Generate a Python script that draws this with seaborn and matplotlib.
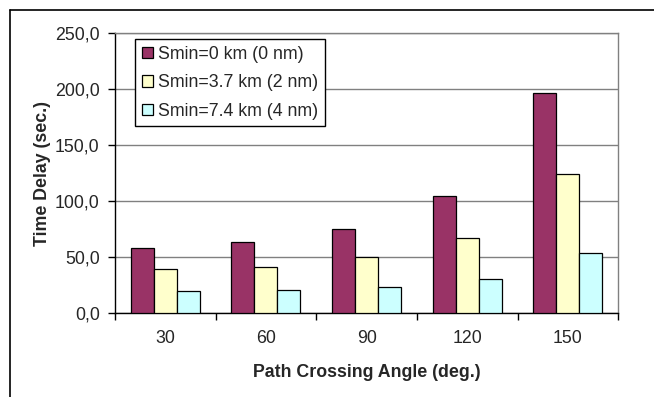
import matplotlib
matplotlib.use("Agg")
import matplotlib.pyplot as plt
from matplotlib.lines import Line2D
from matplotlib.ticker import FuncFormatter, MultipleLocator
import pandas as pd
import seaborn as sns

# Time delay per crossing angle for three separation minima
angles = ["30", "60", "90", "120", "150"]
series_names = ["Smin=0 km (0 nm)", "Smin=3.7 km (2 nm)", "Smin=7.4 km (4 nm)"]
delay_0km = [58.5, 63.5, 75.5, 104.5, 196.5]
delay_37km = [39.5, 41.5, 50.0, 67.0, 124.5]
delay_74km = [19.5, 20.5, 23.0, 30.5, 53.5]
colors = ["#993366", "#FFFFCC", "#CCFFFF"]

rows = []
for name, vals in zip(series_names, [delay_0km, delay_37km, delay_74km]):
    for a, v in zip(angles, vals):
        rows.append({"angle": a, "series": name, "delay": v})
df = pd.DataFrame(rows)

sns.set_style("white")
plt.rcParams["font.family"] = ["Liberation Sans", "DejaVu Sans"]
FS = 12.8

fig = plt.figure(figsize=(6.54, 3.97), dpi=100)
ax = fig.add_axes([0.1758, 0.2108, 0.7696, 0.7068])

sns.barplot(data=df, x="angle", y="delay", hue="series", order=angles,
            hue_order=series_names, palette=colors, saturation=1, width=0.686,
            gap=0, errorbar=None, edgecolor="black", linewidth=0.9, ax=ax, zorder=3)

ax.set_xlim(-0.5, len(angles) - 0.5)
ax.set_ylim(0, 250)
ax.yaxis.set_major_locator(MultipleLocator(50))
ax.yaxis.set_major_formatter(FuncFormatter(lambda v, p: f"{v:.1f}".replace(".", ",")))
ax.grid(axis="y", color="#808080", linewidth=1.0, zorder=0)
ax.set_axisbelow(True)

for side in ["top", "right"]:
    ax.spines[side].set_color("#808080")
    ax.spines[side].set_linewidth(1.0)
for side in ["left", "bottom"]:
    ax.spines[side].set_color("black")
    ax.spines[side].set_linewidth(1.0)

# category ticks sit on the group boundaries, labels at the centres
ax.set_xticks([i - 0.5 for i in range(len(angles) + 1)], minor=False)
ax.set_xticklabels([])
ax.set_xticks(range(len(angles)), minor=True)
ax.set_xticklabels(angles, minor=True, fontsize=FS)
ax.tick_params(axis="x", which="major", direction="out", length=5, width=1, color="black")
ax.tick_params(axis="x", which="minor", length=0, pad=12)
ax.tick_params(axis="y", direction="out", length=5, width=1, color="black",
               labelsize=FS, pad=6)
ax.tick_params(left=True, bottom=True)

ax.set_xlabel("Path Crossing Angle (deg.)", fontsize=FS, fontweight="bold", labelpad=12)
ax.set_ylabel("Time Delay (sec.)", fontsize=FS, fontweight="bold", labelpad=3)

leg = ax.legend(loc="upper left", bbox_to_anchor=(0.0397, 0.9775), borderaxespad=0,
                fontsize=FS, frameon=True, fancybox=False, edgecolor="black",
                framealpha=1, handlelength=0.62, handleheight=0.62,
                handletextpad=0.3, labelspacing=0.64, borderpad=0.38)
leg.get_frame().set_linewidth(1.0)

# outer chart frame
fig.add_artist(Line2D([10 / 654, 1], [1 - 10 / 397, 1 - 10 / 397],
                      transform=fig.transFigure, color="black", linewidth=1.2))
fig.add_artist(Line2D([10 / 654, 10 / 654], [0, 1 - 10 / 397],
                      transform=fig.transFigure, color="black", linewidth=1.2))

fig.savefig("out.png", dpi=100)
